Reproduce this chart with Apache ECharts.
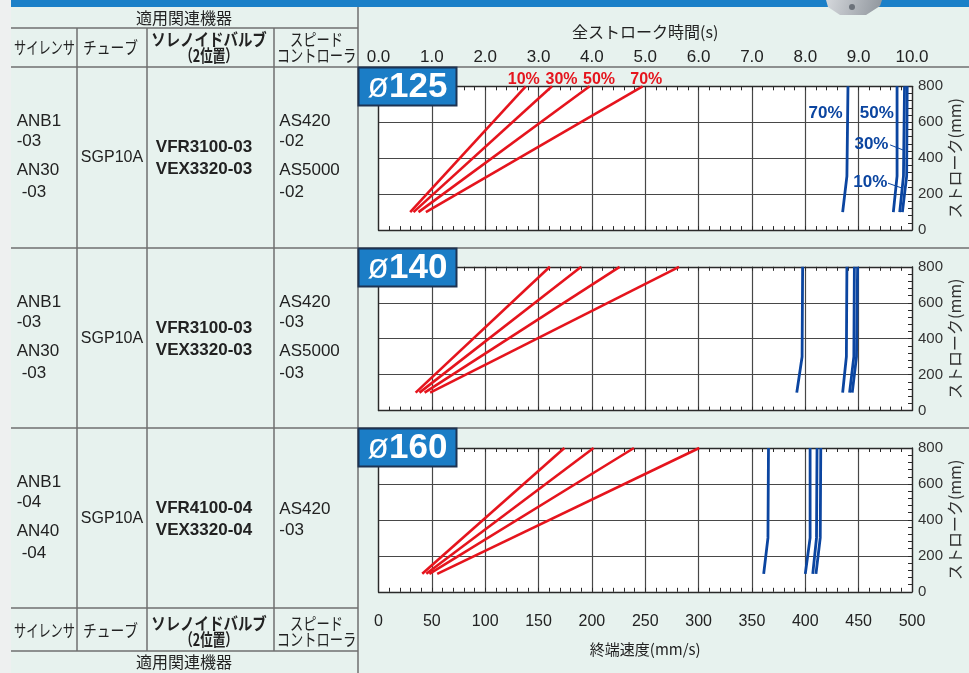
<!DOCTYPE html>
<html><head><meta charset="utf-8">
<script src="https://cdn.jsdelivr.net/npm/echarts@6/dist/echarts.min.js"></script>
<style>html,body{margin:0;padding:0;background:#e7f2ee;}#c{width:969px;height:673px;}</style>
</head><body><div id="c"></div>
<script>
// ---------------- data ----------------
const loadRates = ['10%', '30%', '50%', '70%'];
const boreSizes = ['125', '140', '160'];
// red lines: terminal speed (mm/s) at stroke 100 and 800 mm
const redStroke = [100, 800];
const red125 = [[29.7, 138], [32.8, 162.6], [37.5, 197.9], [44.4, 247.5]];
const red140 = [[34.8, 160.6], [38.4, 190], [43.2, 226], [48.4, 281.7]];
const red160 = [[41, 174.2], [44.8, 201.6], [47.7, 239.4], [55, 300.6]];
// blue lines: full stroke time (s) at stroke 100, 300, 800 mm
const blueStroke = [100, 300, 800];
const blue125 = [[9.82, 9.90, 9.91], [9.77, 9.84, 9.86], [9.65, 9.72, 9.72], [8.70, 8.78, 8.80]];
const blue140 = [[8.88, 8.96, 8.98], [8.83, 8.91, 8.92], [8.70, 8.77, 8.78], [7.84, 7.94, 7.95]];
const blue160 = [[8.20, 8.28, 8.29], [8.14, 8.21, 8.22], [8.00, 8.09, 8.09], [7.22, 7.30, 7.31]];
// label anchors (data units)
const redLabelSpeed = [136.2, 171.5, 206.7, 251];
const redLabelStroke = 840;
const blueLabelTime = [9.22, 9.24, 9.34, 8.38];
const blueLabelStroke = [266, 480, 652, 652];
const leader10 = [[9.55, 261], [9.82, 233]];
const leader30 = [[9.59, 474], [9.83, 446]];
// axis ranges
const speedRange = [0, 500, 50];
const timeRange = [0, 10, 1];
const strokeRange = [0, 800, 200];
// table text
const silencer = [['ANB1', '-03', 'AN30', '-03'], ['ANB1', '-03', 'AN30', '-03'], ['ANB1', '-04', 'AN40', '-04']];
const tube = ['SGP10A', 'SGP10A', 'SGP10A'];
const valve = [['VFR3100-03', 'VEX3320-03'], ['VFR3100-03', 'VEX3320-03'], ['VFR4100-04', 'VEX3320-04']];
const speedCtrl = [['AS420', '-02', 'AS5000', '-02'], ['AS420', '-03', 'AS5000', '-03'], ['AS420', '-03']];

// ---------------- styles ----------------
const RED = '#e5141d', BLUE = '#0b45a0', TXT = '#222';
const F_LAT = '"Liberation Sans", "Noto Sans CJK JP", sans-serif';
const F_JP = '"Noto Sans CJK JP", "Liberation Sans", sans-serif';
const gridTops = [86.3, 266.8, 448];
const plotLeft = 378.5, plotW = 533.5, plotH = 143.8;
const reds = [red125, red140, red160];
const blues = [blue125, blue140, blue160];

const chart = echarts.init(document.getElementById('c'), null, {renderer: 'canvas'});

const grids = [], xAxes = [], yAxes = [], series = [];
const frameLine = {show: true, onZero: false, lineStyle: {color: '#2a2a2a', width: 1.3}};
const tick = {show: true, inside: true, length: 4, lineStyle: {color: '#2a2a2a', width: 1}};
const minor = {show: true, splitNumber: 5, length: 4, lineStyle: {color: '#2a2a2a', width: 1}};
for (let p = 0; p < 3; p++) {
  grids.push({left: plotLeft, top: gridTops[p], width: plotW, height: plotH, show: true,
    backgroundColor: '#ffffff', borderWidth: 0, containLabel: false, outerBoundsMode: 'none'});
  xAxes.push({type: 'value', gridIndex: p, min: speedRange[0], max: speedRange[1], interval: speedRange[2],
    position: 'bottom', axisLine: frameLine, axisTick: tick, minorTick: minor,
    splitLine: {show: true, lineStyle: {color: '#474747', width: 1.2}},
    axisLabel: {show: p === 2, margin: 22, fontSize: 16, color: TXT, fontFamily: F_LAT},
    name: p === 2 ? '終端速度(mm/s)' : '', nameLocation: 'middle', nameGap: 50, nameMoveOverlap: false,
    nameTextStyle: {fontSize: 15, color: TXT, fontFamily: F_JP}});
  xAxes.push({type: 'value', gridIndex: p, min: timeRange[0], max: timeRange[1], interval: timeRange[2],
    position: 'top', axisLine: frameLine, axisTick: tick, minorTick: minor,
    splitLine: {show: false},
    axisLabel: {show: p === 0, margin: 20, fontSize: 17, color: TXT, fontFamily: F_LAT,
      formatter: v => v.toFixed(1)},
    name: p === 0 ? '全ストローク時間(s)' : '', nameLocation: 'middle', nameGap: 46, nameMoveOverlap: false,
    nameTextStyle: {fontSize: 16, color: TXT, fontFamily: F_JP}});
  yAxes.push({type: 'value', gridIndex: p, min: strokeRange[0], max: strokeRange[1], interval: strokeRange[2],
    position: 'right', axisLine: frameLine, axisTick: tick, minorTick: minor,
    splitLine: {show: true, lineStyle: {color: '#474747', width: 1.2}},
    axisLabel: {margin: 6, fontSize: 15, color: '#333', fontFamily: F_LAT},
    name: 'ストローク(mm)', nameLocation: 'middle', nameRotate: 90, nameGap: 35, nameMoveOverlap: false,
    nameTextStyle: {fontSize: 16, color: '#333', fontFamily: F_JP}});
  yAxes.push({type: 'value', gridIndex: p, min: strokeRange[0], max: strokeRange[1],
    position: 'left', axisLine: frameLine, axisTick: {show: false}, axisLabel: {show: false},
    splitLine: {show: false}});
  for (let i = 0; i < 4; i++) {
    series.push({type: 'line', name: 'speed ' + boreSizes[p] + ' ' + loadRates[i],
      xAxisIndex: p * 2, yAxisIndex: p * 2, symbol: 'none', silent: true, animation: false,
      lineStyle: {color: RED, width: 2.6}, z: 3,
      data: redStroke.map((s, k) => [reds[p][i][k], s])});
    series.push({type: 'line', name: 'time ' + boreSizes[p] + ' ' + loadRates[i],
      xAxisIndex: p * 2 + 1, yAxisIndex: p * 2, symbol: 'none', silent: true, animation: false,
      lineStyle: {color: BLUE, width: 2.8}, z: 3,
      data: blueStroke.map((s, k) => [blues[p][i][k], s])});
  }
}
[leader10, leader30].forEach(d => series.push({type: 'line', xAxisIndex: 1, yAxisIndex: 0, symbol: 'none',
  silent: true, animation: false, lineStyle: {color: BLUE, width: 1}, z: 4, data: d}));

// ---------------- decorations (table, badges) ----------------
const LC = '#6f6f6f';
const g = [];
g.push({type: 'rect', z: 0, shape: {x: 0, y: 0, width: 11, height: 673}, style: {fill: '#eef0f0'}});
g.push({type: 'rect', z: 0, shape: {x: 11, y: 0, width: 958, height: 7}, style: {fill: '#1b80c8'}});
g.push({type: 'polygon', z: 1, shape: {points: [[826, 0], [882, 0], [880, 6], [866, 15], [840, 15], [828, 7]]},
  style: {fill: new echarts.graphic.LinearGradient(0, 0, 1, 1, [{offset: 0, color: '#d5d8dc'}, {offset: 1, color: '#8e949b'}])}});
g.push({type: 'circle', z: 2, shape: {cx: 852, cy: 7, r: 3}, style: {fill: '#6c727a'}});
const hl = (x1, y, x2) => g.push({type: 'line', z: 2, shape: {x1, y1: y, x2, y2: y}, style: {stroke: LC, lineWidth: 1.5}});
const vl = (x, y1, y2) => g.push({type: 'line', z: 2, shape: {x1: x, y1, x2: x, y2}, style: {stroke: LC, lineWidth: 1.5}});
hl(11, 28, 358); hl(11, 67, 969); hl(11, 248, 969); hl(11, 428, 969); hl(11, 608, 358); hl(11, 651, 358);
[77, 147, 274].forEach(x => vl(x, 28, 651));
vl(358, 7, 673);
function T(x, y, text, size, weight, family, align, sx, color, z) {
  g.push({type: 'text', z: z || 10, x, y, scaleX: sx || 1,
    style: {text, x: 0, y: 0, fontSize: size, fontWeight: weight, fontFamily: family,
      fill: color || TXT, textAlign: align || 'center',
      textVerticalAlign: 'middle', verticalAlign: 'middle'}});
}
function headerRow(yMid, yTop, yBot) {
  T(44.5, yMid, 'サイレンサ', 17, 'normal', F_JP, 'center', 0.72);
  T(110.5, yMid, 'チューブ', 17, 'normal', F_JP, 'center', 0.81);
  T(209, yTop, 'ソレノイドバルブ', 17, 'bold', F_JP, 'center', 0.85);
  T(209, yBot, '（2位置）', 17, 'bold', F_JP, 'center', 0.74);
  T(316.5, yTop, 'スピード', 17, 'normal', F_JP, 'center', 0.78);
  T(316.5, yBot, 'コントローラ', 17, 'normal', F_JP, 'center', 0.78);
}
T(184, 18, '適用関連機器', 16, 'normal', F_JP, 'center', 1.0);
headerRow(48, 40, 56);
headerRow(631, 623.5, 639.5);
T(184, 662, '適用関連機器', 16, 'normal', F_JP, 'center', 1.0);
const rowTops = [67, 248, 428];
rowTops.forEach((top, r) => {
  const yo = [54.7, 74.7, 103.7, 125.3];
  silencer[r].forEach((s, k) => T(k === 3 ? 21.7 : 16.7, top + yo[k], s, 17, 'normal', F_LAT, 'left'));
  T(112, top + 91, tube[r], 16, 'normal', F_LAT, 'center');
  valve[r].forEach((s, k) => T(204, top + (k === 0 ? 80.3 : 102), s, 17, 'bold', F_LAT, 'center'));
  const yo4 = speedCtrl[r].length === 4 ? yo : [81, 102];
  speedCtrl[r].forEach((s, k) => T(279.3, top + yo4[k], s, 17, 'normal', F_LAT, 'left'));
  // badge
  g.push({type: 'rect', z: 20, shape: {x: 358.5, y: top + 0.5, width: 98, height: 38},
    style: {fill: '#1b7dc6', stroke: '#1d3352', lineWidth: 2}});
  g.push({type: 'text', z: 21, x: 407.5, y: top + 20,
    style: {text: '{o|ø}{n|' + boreSizes[r] + '}', x: 0, y: 0, textAlign: 'center', textVerticalAlign: 'middle',
      verticalAlign: 'middle', fill: '#fff',
      rich: {o: {fontSize: 35, fontWeight: 'normal', fontFamily: F_LAT, color: '#fff'},
             n: {fontSize: 35, fontWeight: 'bold', fontFamily: F_LAT, color: '#fff'}}}});
});

chart.setOption({
  animation: false,
  backgroundColor: '#e7f2ee',
  grid: grids, xAxis: xAxes, yAxis: yAxes, series: series, graphic: g
});

// percentage labels placed through the axes' own scales
const extra = [];
loadRates.forEach((r, i) => {
  const pr = chart.convertToPixel({xAxisIndex: 0, yAxisIndex: 0}, [redLabelSpeed[i], redLabelStroke]);
  extra.push({type: 'text', z: 30, x: pr[0], y: pr[1],
    style: {text: r, x: 0, y: 0, fontSize: 16, fontWeight: 'bold', fontFamily: F_LAT, fill: RED,
      textAlign: 'center', textVerticalAlign: 'middle', verticalAlign: 'middle'}});
  const pb = chart.convertToPixel({xAxisIndex: 1, yAxisIndex: 0}, [blueLabelTime[i], blueLabelStroke[i]]);
  extra.push({type: 'text', z: 30, x: pb[0], y: pb[1],
    style: {text: r, x: 0, y: 0, fontSize: 17, fontWeight: 'bold', fontFamily: F_LAT, fill: BLUE,
      textAlign: 'center', textVerticalAlign: 'middle', verticalAlign: 'middle'}});
});
chart.setOption({graphic: g.concat(extra)});
</script></body></html>
